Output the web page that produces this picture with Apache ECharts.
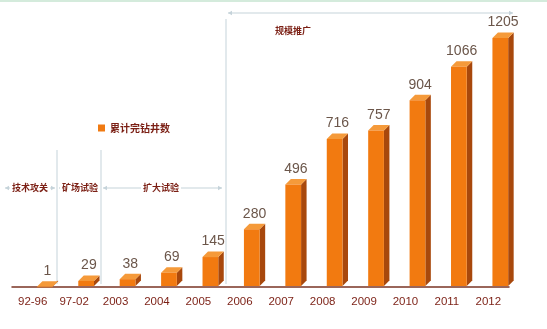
<!DOCTYPE html>
<html>
<head>
<meta charset="utf-8">
<script src="https://cdn.jsdelivr.net/npm/echarts@6/dist/echarts.min.js"></script>
<style>html,body{margin:0;padding:0;background:#fff}#c{width:547px;height:329px}</style>
</head>
<body>
<div id="c"></div>
<script>
const categories = ['92-96','97-02','2003','2004','2005','2006','2007','2008','2009','2010','2011','2012'];
const wells = [1, 29, 38, 69, 145, 280, 496, 716, 757, 904, 1066, 1205];
const seriesName = '累计完钻井数';
const phases = ['技术攻关','矿场试验','扩大试验','规模推广'];

const chart = echarts.init(document.getElementById('c'), null, {renderer:'canvas'});
const dark = '#7b1f14';
const guide = '#c5d3da';
const cjk = '"Noto Sans CJK SC", sans-serif';

function arrowSeg(x1, x2, y) {
  return [
    {type:'line', shape:{x1:x1, y1:y, x2:x2, y2:y}, style:{stroke:guide, lineWidth:1.2}},
    {type:'polygon', shape:{points:[[x1,y],[x1+4,y-2.2],[x1+4,y+2.2]]}, style:{fill:guide}},
    {type:'polygon', shape:{points:[[x2,y],[x2-4,y-2.2],[x2-4,y+2.2]]}, style:{fill:guide}}
  ];
}
function phaseText(t, x, y) {
  return {type:'text', x:x, y:y, style:{text:t, font:'bold 9px ' + cjk, fill:dark, align:'center', verticalAlign:'middle', backgroundColor:'#fff', padding:[1,2]}};
}

const graphics = [].concat(
  [{type:'rect', shape:{x:0, y:0, width:547, height:2}, style:{fill:'#d4ebdc'}}],
  [
    {type:'line', shape:{x1:57, y1:150, x2:57, y2:284}, style:{stroke:guide, lineWidth:1}},
    {type:'line', shape:{x1:101, y1:150, x2:101, y2:284}, style:{stroke:guide, lineWidth:1}},
    {type:'line', shape:{x1:226, y1:19, x2:226, y2:284}, style:{stroke:guide, lineWidth:1}}
  ],
  arrowSeg(5, 55, 188), arrowSeg(59, 99, 188), arrowSeg(103, 222, 188), arrowSeg(228, 513, 13),
  [phaseText(phases[0], 30, 188), phaseText(phases[1], 80, 188), phaseText(phases[2], 161, 188)],
  [{type:'text', x:293, y:31, style:{text:phases[3], font:'bold 9px ' + cjk, fill:dark, align:'center', verticalAlign:'middle'}}]
);

chart.setOption({
  animation:false,
  backgroundColor:'#fff',
  grid:{left:12, right:38, top:38, bottom:42},
  legend:{
    data:[{name:seriesName, icon:'rect'}],
    left:93, top:118, itemWidth:7, itemHeight:7,
    textStyle:{fontFamily:cjk, fontWeight:'bold', fontSize:10, color:dark}
  },
  xAxis:{
    type:'category', data:categories,
    axisLine:{lineStyle:{color:'#7a3424', width:1.5}},
    axisTick:{inside:true, length:4, lineStyle:{color:'#7a3424'}},
    axisLabel:{color:dark, fontSize:11.5, fontFamily:'"Liberation Sans Narrow","Liberation Sans",Arial,sans-serif', margin:9}
  },
  yAxis:{type:'value', min:0, max:1205, show:false, splitLine:{show:false}},
  graphic:graphics,
  series:[{
    name:seriesName,
    type:'custom',
    itemStyle:{color:'#f07a12'},
    data:wells.map((v,i)=>[i, v]),
    renderItem:function(params, api){
      const p = api.coord([api.value(0), api.value(1)]);
      const b = api.coord([api.value(0), 0]);
      const band = api.size([1,0])[0];
      const w = band*0.38, d = 5.5;
      const cx = p[0] + band*0.29;
      const l = cx - w/2, r = cx + w/2;
      const top = p[1], bot = b[1] - 1;
      return {type:'group', children:[
        {type:'polygon', shape:{points:[[r,top],[r+d,top-d],[r+d,bot-d],[r,bot]]}, style:{fill:'#a8480c'}},
        {type:'polygon', shape:{points:[[l,top],[l+d,top-d],[r+d,top-d],[r,top]]}, style:{fill:'#f59a3a'}},
        {type:'rect', shape:{x:l, y:top, width:w, height:Math.max(bot-top,0.5)}, style:{fill:'#f27a10'}},
        {type:'text', x:cx + d/2, y:top - d - 3, style:{text:String(api.value(1)), font:'14px "Liberation Sans", Arial, sans-serif', fill:'#6b564a', align:'center', verticalAlign:'bottom'}}
      ]};
    }
  }]
});
</script>
</body>
</html>
